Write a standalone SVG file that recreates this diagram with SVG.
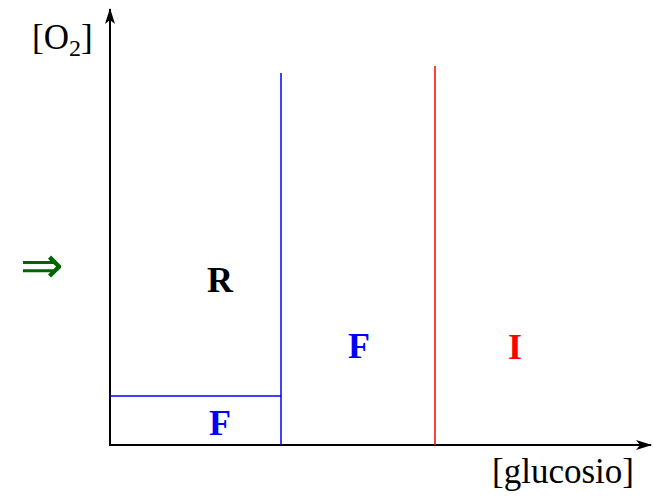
<svg xmlns="http://www.w3.org/2000/svg" width="654" height="499" viewBox="0 0 654 499">
<style>
.ax{stroke:#000;stroke-width:2;fill:none}
.lb{font-family:"Liberation Serif",serif;font-weight:bold;font-size:36px;text-anchor:middle}
.tx{font-family:"Liberation Serif",serif;font-size:35px;fill:#000}
</style>
<defs>
<marker id="ah" viewBox="0 0 16 10" refX="15" refY="5" markerWidth="16" markerHeight="10" markerUnits="userSpaceOnUse" orient="auto">
<path d="M0,0 L16,5 L0,10 L4,5 z" fill="#000"/>
</marker>
</defs>
<rect width="654" height="499" fill="#fff"/>
<g id="connectors">
<line class="ax" x1="110" y1="446" x2="110" y2="9" marker-end="url(#ah)"/>
<line class="ax" x1="109" y1="445" x2="651" y2="445" marker-end="url(#ah)"/>
<line x1="281" y1="73" x2="281" y2="445" stroke="#0000ff" stroke-width="1.5"/>
<line x1="110" y1="396" x2="281" y2="396" stroke="#0000ff" stroke-width="1.5"/>
<line x1="435" y1="66" x2="435" y2="445" stroke="#ff0000" stroke-width="1.5"/>
</g>
<g id="yaxis-label"><text class="tx" x="32" y="49">[O<tspan font-size="24" dy="7">2</tspan><tspan dy="-7">]</tspan></text></g>
<g id="xaxis-label"><text class="tx" x="492" y="483">[glucosio]</text></g>
<g id="arrow"><text x="20" y="283" font-family="DejaVu Sans,sans-serif" font-size="52" fill="#006400">⇒</text></g>
<g id="R"><text class="lb" x="220" y="292" fill="#000">R</text></g>
<g id="F1"><text class="lb" x="359" y="358" fill="#0000ff">F</text></g>
<g id="I"><text class="lb" x="515" y="359" fill="#ff0000">I</text></g>
<g id="F2"><text class="lb" x="220" y="435" fill="#0000ff">F</text></g>
</svg>
